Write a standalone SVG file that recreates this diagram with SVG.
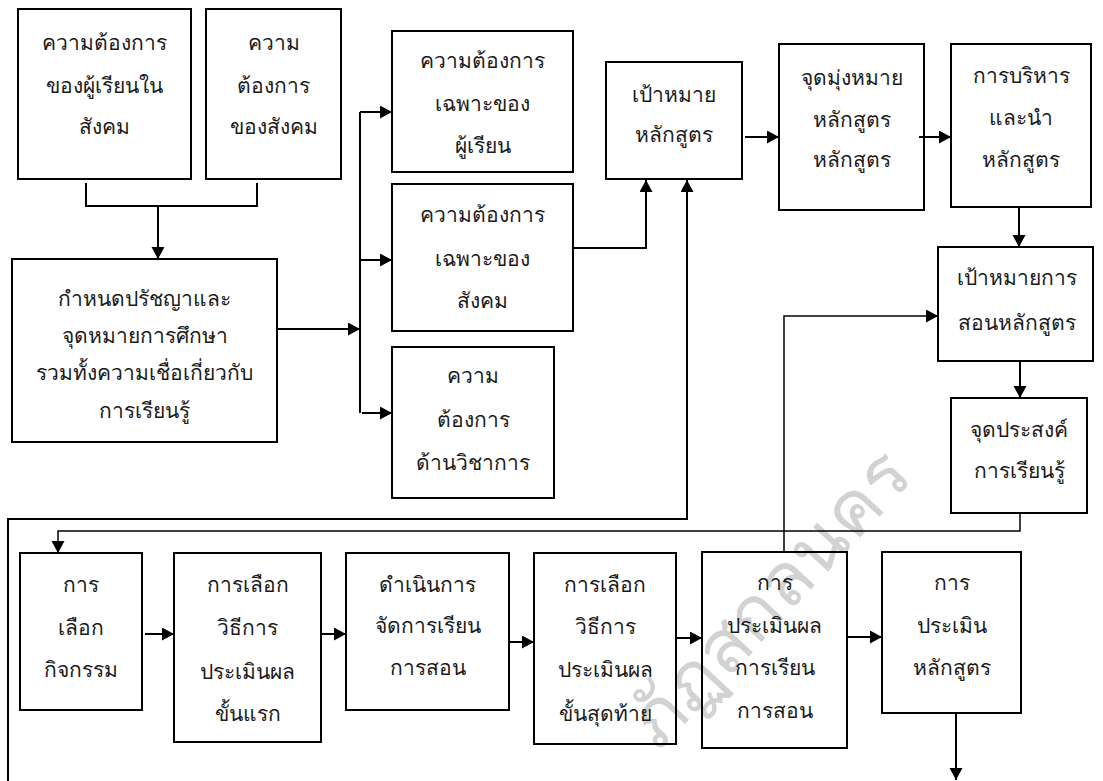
<svg xmlns="http://www.w3.org/2000/svg" width="1103" height="781" viewBox="0 0 1103 781">
<style>
.box{fill:none;stroke:#000;stroke-width:2}
.t{font-family:"Noto Sans","DejaVu Sans",sans-serif;font-size:21px;font-weight:300;fill:#1a1a1a;text-anchor:middle}
.c{fill:none;stroke:#000;stroke-width:2}
.thin{fill:none;stroke:#000;stroke-width:1.5}
.wm{font-family:"Noto Sans","DejaVu Sans",sans-serif;font-size:74px;font-weight:300;fill:#d2d2d2;text-anchor:end}
</style>
<defs>
<marker id="ah" markerUnits="userSpaceOnUse" markerWidth="14" markerHeight="14" refX="12" refY="6.5" orient="auto">
<path d="M0,0 L12,6.5 L0,13 z" fill="#000"/>
</marker>
</defs>
<rect width="1103" height="781" fill="#fff"/>
<g id="watermark">
<text class="wm" transform="translate(915,478) rotate(-47)">ภัฏสกลนคร</text>
</g>
<g id="connectors">
<path class="c" d="M86,183 V206 H257 V183"/>
<path class="c" d="M158,206 V259" marker-end="url(#ah)"/>
<path class="c" d="M277,329 H360" marker-end="url(#ah)"/>
<path class="c" d="M360,112 V413"/>
<path class="c" d="M360,112 H392" marker-end="url(#ah)"/>
<path class="c" d="M360,260 H392" marker-end="url(#ah)"/>
<path class="c" d="M362,413 H392" marker-end="url(#ah)"/>
<path class="c" d="M573,248 H646 V180" marker-end="url(#ah)"/>
<path class="c" d="M8,781 V519 H687 V180" marker-end="url(#ah)"/>
<path class="c" d="M745,137 H779" marker-end="url(#ah)"/>
<path class="c" d="M919,137 H951" marker-end="url(#ah)"/>
<path class="c" d="M1019,208 V247" marker-end="url(#ah)"/>
<path class="c" d="M1020,362 V398" marker-end="url(#ah)"/>
<path class="thin" d="M1020,514 V531 H58 V553" marker-end="url(#ah)"/>
<path class="thin" d="M784,552 V316 H938" marker-end="url(#ah)"/>
<path class="c" d="M145,634 H174" marker-end="url(#ah)"/>
<path class="c" d="M321,634 H346" marker-end="url(#ah)"/>
<path class="c" d="M509,642 H534" marker-end="url(#ah)"/>
<path class="c" d="M676,638 H702" marker-end="url(#ah)"/>
<path class="c" d="M847,637 H882" marker-end="url(#ah)"/>
<path class="c" d="M956,713 V780" marker-end="url(#ah)"/>
</g>
<g id="n1"><rect class="box" x="18" y="9" width="173" height="170"/>
<text class="t" x="104.5" y="50">ความต้องการ</text><text class="t" x="104.5" y="93">ของผู้เรียนใน</text><text class="t" x="104.5" y="134">สังคม</text></g>
<g id="n2"><rect class="box" x="206" y="9" width="135" height="170"/>
<text class="t" x="273.5" y="50">ความ</text><text class="t" x="273.5" y="93">ต้องการ</text><text class="t" x="273.5" y="134">ของสังคม</text></g>
<g id="n3"><rect class="box" x="12" y="259" width="265" height="183"/>
<text class="t" x="144.5" y="306">กำหนดปรัชญาและ</text><text class="t" x="144.5" y="343">จุดหมายการศึกษา</text><text class="t" x="144.5" y="380">รวมทั้งความเชื่อเกี่ยวกับ</text><text class="t" x="144.5" y="418">การเรียนรู้</text></g>
<g id="n4"><rect class="box" x="392" y="31" width="181" height="141"/>
<text class="t" x="482.5" y="68">ความต้องการ</text><text class="t" x="482.5" y="111">เฉพาะของ</text><text class="t" x="482.5" y="153">ผู้เรียน</text></g>
<g id="n5"><rect class="box" x="392" y="184" width="181" height="147"/>
<text class="t" x="482.5" y="222">ความต้องการ</text><text class="t" x="482.5" y="266">เฉพาะของ</text><text class="t" x="482.5" y="308">สังคม</text></g>
<g id="n6"><rect class="box" x="392" y="347" width="162" height="151"/>
<text class="t" x="473" y="383">ความ</text><text class="t" x="473" y="427">ต้องการ</text><text class="t" x="473" y="470">ด้านวิชาการ</text></g>
<g id="n7"><rect class="box" x="606" y="62" width="136" height="117"/>
<text class="t" x="674" y="102">เป้าหมาย</text><text class="t" x="674" y="142">หลักสูตร</text></g>
<g id="n8"><rect class="box" x="779" y="44" width="145" height="166"/>
<text class="t" x="851.5" y="85">จุดมุ่งหมาย</text><text class="t" x="851.5" y="127">หลักสูตร</text><text class="t" x="851.5" y="167">หลักสูตร</text></g>
<g id="n9"><rect class="box" x="951" y="44" width="140" height="163"/>
<text class="t" x="1021" y="83">การบริหาร</text><text class="t" x="1021" y="125">และนำ</text><text class="t" x="1021" y="167">หลักสูตร</text></g>
<g id="n10"><rect class="box" x="938" y="247" width="155" height="114"/>
<text class="t" x="1017" y="285">เป้าหมายการ</text><text class="t" x="1017" y="330">สอนหลักสูตร</text></g>
<g id="n11"><rect class="box" x="951" y="398" width="136" height="115"/>
<text class="t" x="1019" y="437">จุดประสงค์</text><text class="t" x="1019" y="478">การเรียนรู้</text></g>
<g id="n12"><rect class="box" x="20" y="553" width="122" height="157"/>
<text class="t" x="81" y="592">การ</text><text class="t" x="81" y="635">เลือก</text><text class="t" x="81" y="677">กิจกรรม</text></g>
<g id="n13"><rect class="box" x="174" y="553" width="147" height="189"/>
<text class="t" x="247.5" y="592">การเลือก</text><text class="t" x="247.5" y="635">วิธีการ</text><text class="t" x="247.5" y="679">ประเมินผล</text><text class="t" x="247.5" y="721">ขั้นแรก</text></g>
<g id="n14"><rect class="box" x="346" y="553" width="163" height="157"/>
<text class="t" x="427.5" y="592">ดำเนินการ</text><text class="t" x="427.5" y="633">จัดการเรียน</text><text class="t" x="427.5" y="675">การสอน</text></g>
<g id="n15"><rect class="box" x="534" y="553" width="142" height="191"/>
<text class="t" x="605" y="592">การเลือก</text><text class="t" x="605" y="634">วิธีการ</text><text class="t" x="605" y="677">ประเมินผล</text><text class="t" x="605" y="721">ขั้นสุดท้าย</text></g>
<g id="n16"><rect class="box" x="702" y="552" width="145" height="196"/>
<text class="t" x="774.5" y="590">การ</text><text class="t" x="774.5" y="633">ประเมินผล</text><text class="t" x="774.5" y="675">การเรียน</text><text class="t" x="774.5" y="718">การสอน</text></g>
<g id="n17"><rect class="box" x="882" y="552" width="139" height="161"/>
<text class="t" x="951.5" y="590">การ</text><text class="t" x="951.5" y="633">ประเมิน</text><text class="t" x="951.5" y="675">หลักสูตร</text></g>
</svg>
